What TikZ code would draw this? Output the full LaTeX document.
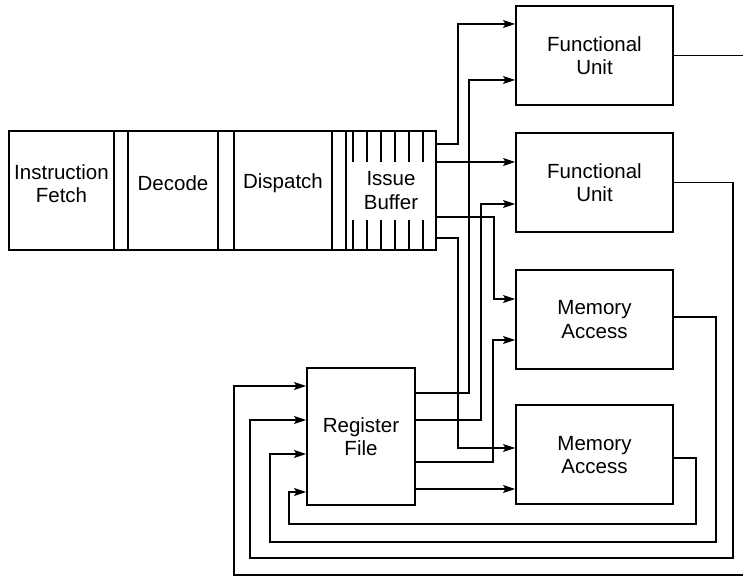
\documentclass[tikz,border=0pt]{standalone}
\usepackage{fontspec}
\setmainfont{Liberation Sans}
\usetikzlibrary{arrows.meta}

\tikzset{
  unit/.style={draw, line width=2pt, minimum width=157, minimum height=99, align=center, inner sep=0pt},
  stage/.style={draw, line width=2pt, minimum height=119, outer sep=0pt, inner sep=0pt, align=center},
  lift/.style={yshift=7, align=center},
  conn/.style={line width=1.1pt, -{Stealth[length=12pt,width=8pt,inset=2.5pt]}},
  hatch/.style={line width=1.2pt}
}

\begin{document}
\begin{tikzpicture}[x=1pt, y=1pt, font=\fontsize{20.5}{23.5}\selectfont]

\clip (0,0) rectangle (743,580);

% pipeline front end
\node[stage, minimum width=105, label={[lift]center:Instruction\\Fetch}] (fetch) at (61.5,389.5) {};
\node[stage, minimum width=90, label={[lift]center:Decode}] (decode) at (173,389.5) {};
\node[stage, minimum width=98, label={[lift]center:Dispatch}] (dispatch) at (283,389.5) {};
\node[stage, minimum width=90] (issue) at (391,389.5) {Issue\\Buffer};
\draw[line width=2pt] (fetch.north west) rectangle (issue.south east);

% buffer slots
\foreach \dx in {7,21,...,77}
{
    \draw[hatch] ([xshift=\dx]issue.north west) -- ++(0,-31);
    \draw[hatch] ([xshift=\dx]issue.south west) -- ++(0,30);
}

% execution units
\node[unit] (fu1) at (594.5,524.5) {Functional\\Unit};
\node[unit] (fu2) at (594.5,397.5) {Functional\\Unit};
\node[unit] (ma1) at (594.5,260.5) {Memory\\Access};
\node[unit] (ma2) at (594.5,125) {Memory\\Access};
\node[unit, minimum width=108, minimum height=137] (rf) at (361,143.5) {Register\\File};

% issue buffer to units
\draw[conn] (issue.east |- 0,436) -- (458,436) |- (fu1.west |- 0,556);
\draw[conn] (issue.east |- 0,418) -- (fu2.west |- 0,418);
\draw[conn] (issue.east |- 0,363) -- (494,363) |- (ma1.west |- 0,281);
\draw[conn] (issue.east |- 0,342) -- (458,342) |- (ma2.west |- 0,132);

% operands from register file
\draw[conn] (rf.east |- 0,187) -- (469,187) |- (fu1.west |- 0,500);
\draw[conn] (rf.east |- 0,160) -- (481,160) |- (fu2.west |- 0,376);
\draw[conn] (rf.east |- 0,118) -- (493,118) |- (ma1.west |- 0,240);
\draw[conn] (rf.east |- 0,91) -- (ma2.west |- 0,91);

% results written back
\draw[conn] (fu1.east) -| (760,5) -| (234,194) -- (rf.west |- 0,194);
\draw[conn] (fu2.east) -| (733,22) -| (250,160) -- (rf.west |- 0,160);
\draw[conn] (ma1.east |- 0,263) -| (716,38) -| (270,126) -- (rf.west |- 0,126);
\draw[conn] (ma2.east |- 0,122) -| (696,56) -| (289,88) -- (rf.west |- 0,88);

\end{tikzpicture}
\end{document}
